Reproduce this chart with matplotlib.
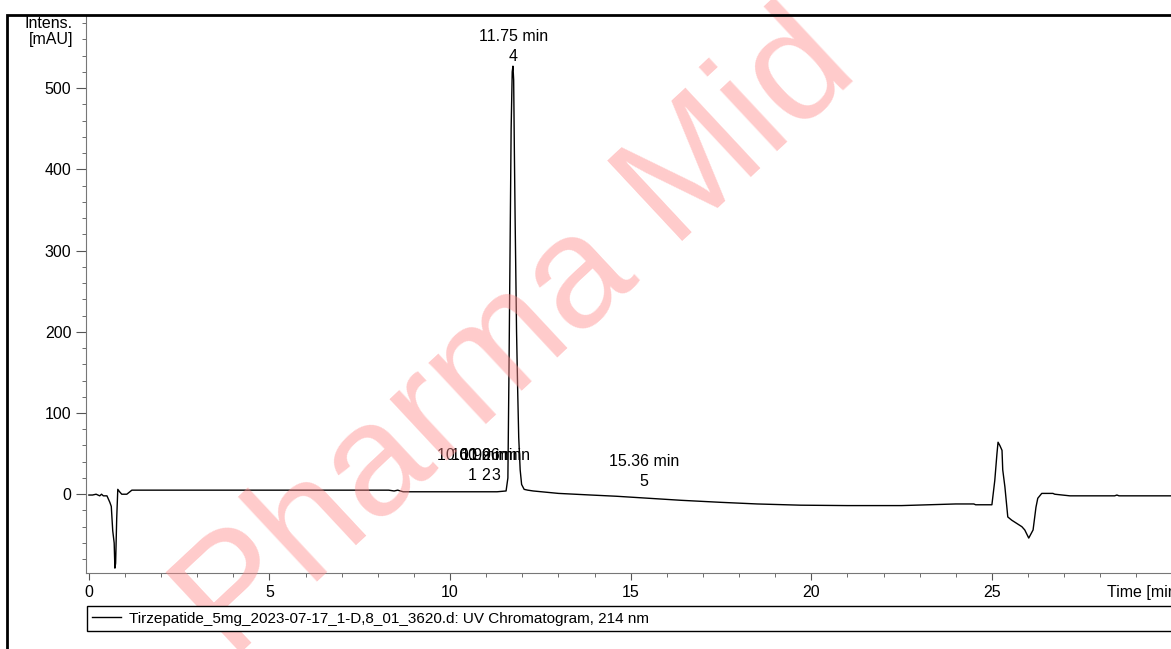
import matplotlib
matplotlib.use("Agg")
import matplotlib.pyplot as plt
from matplotlib.patches import Rectangle
from matplotlib.ticker import MultipleLocator
import numpy as np

plt.rcParams["font.family"] = ["Liberation Sans", "DejaVu Sans"]
plt.rcParams["font.size"] = 11.5

# UV trace (time in min, intensity in mAU)
time_min = [
    0.0, 0.1, 0.2, 0.3, 0.35, 0.4, 0.5, 0.58, 0.62, 0.66, 0.70, 0.72, 0.74,
    0.77, 0.80, 0.85, 0.91, 1.05, 1.19, 1.5, 3.0, 5.0, 7.0, 8.3, 8.45, 8.55,
    8.7, 9.5, 10.5, 11.3, 11.55, 11.60, 11.63, 11.66, 11.69, 11.72, 11.74,
    11.76, 11.78, 11.80, 11.82, 11.84, 11.87, 11.90, 11.94, 11.98, 12.05,
    12.15, 12.3, 13.0, 13.9, 14.6, 15.5, 16.4, 17.5, 18.5, 19.7, 21.0, 22.5,
    24.0, 24.5, 24.55, 25.0, 25.08, 25.14, 25.17, 25.22, 25.28, 25.30, 25.36,
    25.44, 25.55, 25.83, 25.91, 26.02, 26.14, 26.22, 26.27, 26.38, 26.69,
    26.74, 27.16, 28.4, 28.46, 28.52, 30.0,
]
intens_mau = [
    -1, -1, 0, -2, 0, -2, -2, -10, -15, -45, -60, -91, -85,
    -30, 6, 3, 0, 0, 5, 5, 5, 5, 5, 5, 4, 5,
    3, 3, 3, 3, 4, 20, 150, 300, 450, 520, 527,
    510, 420, 340, 270, 200, 130, 70, 30, 12, 6,
    5, 4, 1, -1, -2.5, -5, -7.5, -10, -12, -13.5, -14, -14,
    -12, -12, -13, -13, 17, 50, 64, 60, 54, 30, 9,
    -28, -32, -40, -44, -54, -44, -16, -5, 1, 1,
    0, -2, -2, -1, -2, -2,
]

# peak table
peak_times = [10.60, 10.99, 11.26, 11.75, 15.36]
peak_nums = ["1", "2", "3", "4", "5"]
peak_labels = ["10.60 min", "10.99 min", "11.26 min", "11.75 min", "15.36 min"]

legend_text = "Tirzepatide_5mg_2023-07-17_1-D,8_01_3620.d: UV Chromatogram, 214 nm"

W, H = 1171, 649
fig = plt.figure(figsize=(W / 100, H / 100), dpi=100)
ax = fig.add_axes([86 / W, (H - 573) / H, (1172.5 - 86) / W, (573 - 15) / H])

# watermark
fig.text(232 / W, 1 - 662 / H, "Pharma Mid", fontsize=115, color="#ff8c8c",
         alpha=0.45, rotation=43, rotation_mode="anchor", ha="left",
         va="baseline", zorder=0)

line, = ax.plot(time_min, intens_mau, color="black", lw=1.0, zorder=3)

ax.set_xlim(-0.08, 30.0)
ax.set_ylim(-97, 590)
ax.patch.set_alpha(0)

ax.xaxis.set_minor_locator(MultipleLocator(1))
ax.set_xticks([0, 5, 10, 15, 20, 25])
ax.yaxis.set_minor_locator(MultipleLocator(20))
ax.set_yticks([0, 100, 200, 300, 400, 500])
ax.tick_params(which="major", length=5, color="#555555", labelsize=11.5)
ax.tick_params(which="minor", length=3, color="#555555")
ax.tick_params(axis="y", which="major", length=7)
for s in ["top", "right"]:
    ax.spines[s].set_visible(False)
for s in ["left", "bottom"]:
    ax.spines[s].set_color("#777777")

# unit labels in place of the last ticks
ax.text(-0.012, 580, "Intens.", transform=ax.get_yaxis_transform(),
        ha="right", va="center")
ax.text(-0.012, 560, "[mAU]", transform=ax.get_yaxis_transform(),
        ha="right", va="center")
ax.text(28.2, -0.021, "Time [min]", transform=ax.get_xaxis_transform(),
        ha="left", va="top")

# peak annotations
for t, n, lab in zip(peak_times, peak_nums, peak_labels):
    y = np.interp(t, time_min, intens_mau)
    ax.annotate(n, (t, y), xytext=(0, 12), textcoords="offset points",
                ha="center", va="center")
    ax.annotate(lab, (t, y), xytext=(0, 26), textcoords="offset points",
                ha="center", va="center")

# legend box
fig.legend([line], [legend_text], loc="lower left",
           bbox_to_anchor=(87 / W, (H - 631) / H, 1.0, 24 / H), mode="expand",
           borderaxespad=0, frameon=True, fancybox=False, edgecolor="black",
           framealpha=1, handlelength=1.9, handletextpad=0.5, borderpad=0.35,
           fontsize=11)

# outer frame
fig.add_artist(Rectangle((7 / W, -0.1), 2, 1 - 15 / H + 0.1,
                         transform=fig.transFigure, fill=False, lw=2,
                         edgecolor="black"))

fig.savefig("out.png", dpi=100)
